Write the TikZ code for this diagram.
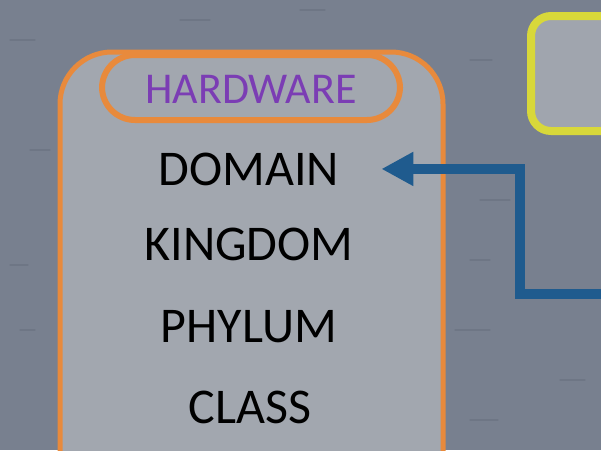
\documentclass[tikz,border=0pt]{standalone}
\usepackage{fontspec}
\setmainfont{Carlito}
\usetikzlibrary{arrows.meta}
\definecolor{bgwater}{HTML}{78808F}
\definecolor{panelfill}{HTML}{A2A7AF}
\definecolor{yelfill}{HTML}{A0A5AE}
\definecolor{orangeline}{HTML}{E88A3C}
\definecolor{yelline}{HTML}{D8D83A}
\definecolor{arrowblue}{HTML}{1F5B8E}
\definecolor{hwpurple}{HTML}{7B3DB4}
\definecolor{streak}{HTML}{5E6675}
\tikzset{
  rankname/.style={anchor=base, font=\fontsize{50}{50}\selectfont, text=black, inner sep=0pt},
  hwlabel/.style={font=\fontsize{44}{44}\selectfont, text=hwpurple, inner sep=0pt},
  flowarrow/.style={draw=arrowblue, line width=10pt, -{Triangle[length=32pt,width=32pt]}},
}
\begin{document}
\begin{tikzpicture}[x=1pt,y=-1pt]
\useasboundingbox (0,0) rectangle (601,450);
\clip (0,0) rectangle (601,450);
\fill[bgwater] (0,0) rectangle (601,450);
% a few darker water streaks
\foreach \sx/\sy/\sl in {10/40/25, 180/20/30, 30/150/20, 10/265/18, 470/60/22, 480/200/30, 455/330/35, 560/380/25, 470/420/28, 20/330/15, 470/260/20, 300/10/25}
  \draw[streak, line width=1.2pt, opacity=0.35, line cap=round] (\sx,\sy) -- ++(\sl,0);
% outer orange panel
\draw[orangeline, line width=5pt, fill=panelfill, rounded corners=52pt] (60,52) rectangle (443,520);
% yellow box at top right
\draw[yelline, line width=8pt, fill=yelfill, rounded corners=20pt] (531,16) rectangle (660,131);
% HARDWARE pill
\draw[orangeline, line width=6pt, fill=panelfill, rounded corners=33pt] (102,55) rectangle (400,120);
\node[hwlabel] (hw) at (251,89) {HARDWARE};
% rank names
\node[rankname] (domain) at (249,185) {DOMAIN};
\node[rankname] (kingdom) at (249,260) {KINGDOM};
\node[rankname] (phylum) at (249,342) {PHYLUM};
\node[rankname] (class) at (250,423) {CLASS};
% arrow
\coordinate (src) at (615,294);
\coordinate (tip) at ([xshift=42pt]domain.east);
\draw[flowarrow] (src) -- ++(-95,0) |- (tip);
\end{tikzpicture}
\end{document}
